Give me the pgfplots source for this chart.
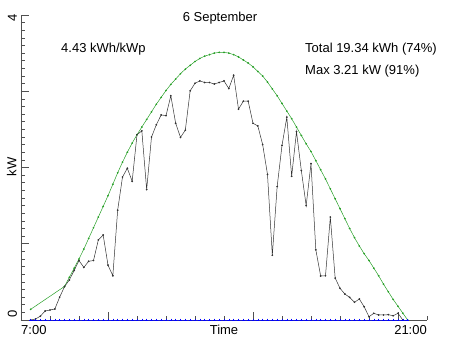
\documentclass[border=0pt]{standalone}
\usepackage{pgfplots}
\pgfplotsset{compat=1.18}
\usepackage{pgfplotstable}
\usepackage{fontspec}
\setmainfont{Liberation Sans}
\definecolor{clrgreen}{RGB}{40,160,40}
\definecolor{axgray}{RGB}{80,80,80}
\definecolor{dgray}{RGB}{50,50,50}

\pgfplotstableread{
k P
2 0.00
3 0.013
4 0.05
5 0.118
6 0.131
7 0.144
8 0.30
9 0.437
10 0.525
11 0.65
12 0.78
13 0.69
14 0.77
15 0.78
16 1.05
17 1.115
18 0.72
19 0.58
20 1.44
21 1.875
22 1.99
23 1.82
24 2.43
25 2.48
26 1.71
27 2.40
28 2.56
29 2.69
30 2.68
31 2.94
32 2.58
33 2.395
34 2.49
35 3.005
36 3.105
37 3.135
38 3.115
39 3.115
40 3.095
41 3.115
42 3.135
43 3.035
44 3.21
45 2.765
46 2.87
47 2.87
48 2.58
49 2.545
50 2.30
51 1.91
52 0.85
53 1.75
54 2.29
55 2.66
56 1.885
57 2.47
58 1.96
59 1.50
60 2.05
61 0.92
62 0.577
63 0.58
64 1.35
65 0.55
66 0.416
67 0.341
68 0.297
69 0.233
70 0.275
71 0.174
72 0.043
73 0.088
74 0.066
75 0.066
76 0.07
77 0.056
78 0.088
79 0.00
}\actual

\pgfplotstableread{
k P
2 0.14
9 0.44
10 0.56
11 0.68
12 0.80
13 0.93
14 1.07
15 1.21
16 1.35
17 1.49
18 1.63
19 1.78
20 1.93
21 2.07
22 2.20
23 2.32
24 2.43
25 2.53
26 2.63
27 2.73
28 2.83
29 2.92
30 3.01
31 3.09
32 3.16
33 3.23
34 3.29
35 3.34
36 3.39
37 3.43
38 3.46
39 3.48
40 3.50
41 3.51
42 3.51
43 3.50
44 3.48
45 3.45
46 3.41
47 3.37
48 3.32
49 3.26
50 3.20
51 3.12
52 3.03
53 2.94
54 2.84
55 2.74
56 2.64
57 2.53
58 2.42
59 2.31
60 2.21
61 2.09
62 1.97
63 1.85
64 1.72
65 1.59
66 1.46
67 1.33
68 1.20
69 1.08
70 0.97
71 0.87
72 0.78
73 0.68
74 0.58
75 0.47
76 0.37
77 0.27
78 0.18
79 0.09
80 0.00
}\clearsky

\pgfplotstableread{
k P
2 0 
3 0 
4 0 
5 0 
6 0 
7 0 
8 0 
9 0 
10 0 
11 0 
12 0 
13 0 
14 0 
15 0 
16 0 
17 0 
18 0 
19 0 
20 0 
21 0 
22 0 
23 0 
24 0 
25 0 
26 0 
27 0 
28 0 
29 0 
30 0 
31 0 
32 0 
33 0 
34 0 
35 0 
36 0 
37 0 
38 0 
39 0 
40 0 
41 0 
42 0 
43 0 
44 0 
45 0 
46 0 
47 0 
48 0 
49 0 
50 0 
51 0 
52 0 
53 0 
54 0 
55 0 
56 0 
57 0 
58 0 
59 0 
60 0 
61 0 
62 0 
63 0 
64 0 
65 0 
66 0 
67 0 
68 0 
69 0 
70 0 
71 0 
72 0 
73 0 
74 0 
75 0 
76 0 
77 0 
78 0 
79 0 
80 0 
}\baseline

\begin{document}
\begin{tikzpicture}[every node/.style={font=\fontsize{13}{15}\selectfont}]
\useasboundingbox (0,0) rectangle (452pt,339pt);
\begin{axis}[
  at={(21pt,19pt)}, anchor=south west,
  scale only axis, width=406pt, height=305pt,
  xmin=0, xmax=84, ymin=0, ymax=4,
  axis lines=left,
  axis line style={-, draw=axgray, line width=0.6pt},
  every tick/.style={draw=axgray, line width=0.6pt},
  tick align=inside,
  major tick length=8pt, minor tick length=4pt,
  xtick={18,48,78},
  minor xtick={0,6,12,24,30,36,42,54,60,66,72,84},
  ytick={0,1,2,3,4},
  minor y tick num=9,
  xticklabels={}, yticklabels={},
  clip=false,
]
\addplot[color=clrgreen, line width=0.5pt, mark=*, mark size=0.6pt] table[x=k, y=P] {\clearsky};
\addplot[color=dgray, line width=0.5pt, mark=*, mark size=0.6pt] table[x=k, y=P] {\actual};
\addplot[color=blue, line width=0.5pt, mark=+, mark size=1.4pt] table[x=k, y=P] {\baseline};
\end{axis}
\node[anchor=base west, inner sep=0] at (21pt,4.5pt) {7:00};
\node[anchor=base east, inner sep=0] at (427pt,4.5pt) {21:00};
\node[anchor=base, inner sep=0] at (224pt,4.5pt) {Time};
\node[anchor=base, inner sep=0, rotate=90] at (17pt,25pt) {0};
\node[anchor=base, inner sep=0, rotate=90] at (17pt,321pt) {4};
\node[anchor=base, inner sep=0, rotate=90] at (16.5pt,172pt) {kW};
\node[anchor=base, inner sep=0] at (220pt,317pt) {6 September};
\node[anchor=base west, inner sep=0] at (61pt,286.5pt) {4.43 kWh/kWp};
\node[anchor=base west, inner sep=0] at (305pt,286.5pt) {Total 19.34 kWh (74\%)};
\node[anchor=base west, inner sep=0] at (305pt,264.7pt) {Max 3.21 kW (91\%)};
\end{tikzpicture}
\end{document}
